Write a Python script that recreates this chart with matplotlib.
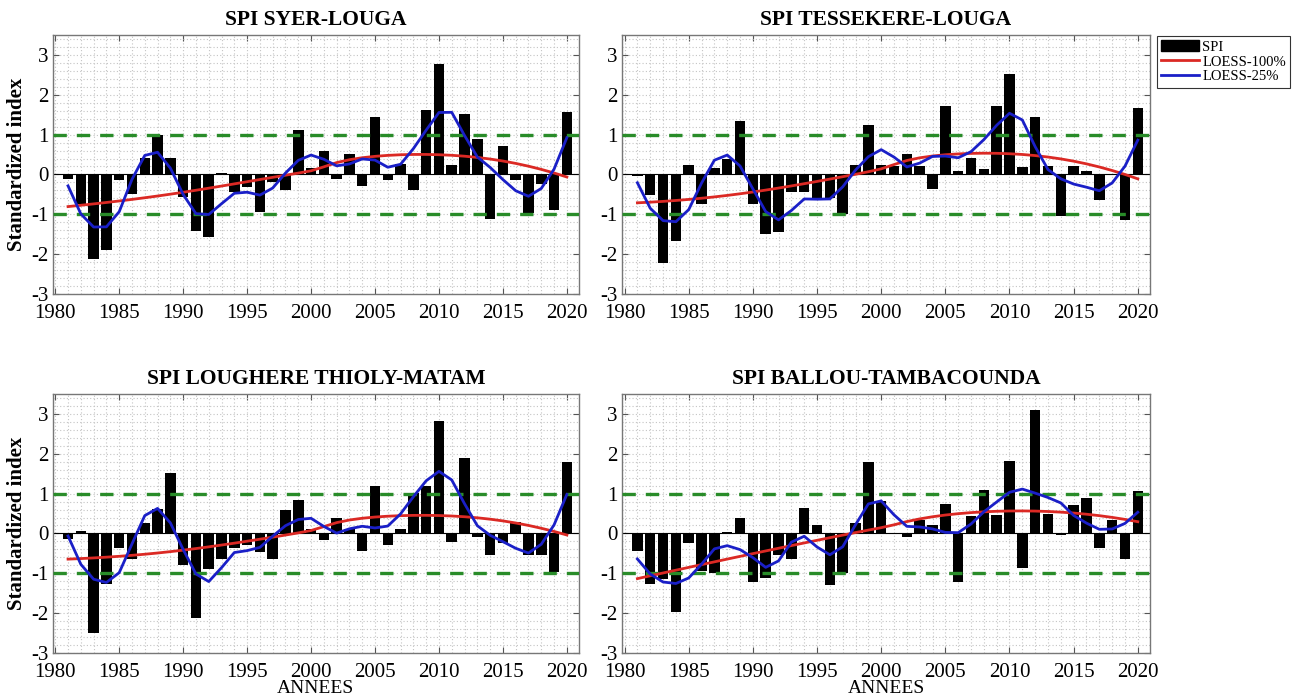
import numpy as np
import matplotlib
matplotlib.use("Agg")
import matplotlib.pyplot as plt
from matplotlib.patches import Patch
from matplotlib.lines import Line2D
from matplotlib.ticker import MultipleLocator

plt.rcParams["axes.unicode_minus"] = False

years = list(range(1981, 2021))

spi_syer_louga = [-0.11, -0.75, -2.13, -1.90, -0.15, -0.50, 0.41, 0.98, 0.41, -0.57,
                  -1.41, -1.57, 0.03, -0.44, -0.32, -0.94, -0.20, -0.40, 1.12, 0.15,
                  0.60, -0.11, 0.52, -0.30, 1.43, -0.15, 0.27, -0.38, 1.62, 2.77,
                  0.25, 1.52, 0.90, -1.12, 0.71, -0.15, -0.96, -0.25, -0.90, 1.58]

spi_tessekere_louga = [-0.03, -0.51, -2.23, -1.67, 0.25, -0.73, 0.17, 0.40, 1.33, -0.73,
                       -1.50, -1.44, -0.44, -0.44, -0.60, -0.60, -0.98, 0.25, 1.24, 0.25,
                       0.21, 0.52, 0.20, -0.36, 1.71, 0.08, 0.42, 0.13, 1.71, 2.52,
                       0.18, 1.43, 0.20, -1.05, 0.22, 0.08, -0.63, -0.02, -1.15, 1.66]

spi_thioly_matam = [-0.15, 0.07, -2.50, -1.28, -0.36, -0.63, 0.27, 0.62, 1.52, -0.80,
                    -2.11, -0.88, -0.65, -0.36, -0.30, -0.46, -0.65, 0.58, 0.83, 0.10,
                    -0.17, 0.39, 0.10, -0.44, 1.18, -0.28, 0.10, 1.02, 1.18, 2.81,
                    -0.21, 1.89, -0.08, -0.53, -0.25, 0.30, -0.54, -0.53, -0.97, 1.79]

spi_ballou_tambacounda = [-0.43, -1.28, -1.15, -1.98, -0.24, -0.95, -0.98, 0.04, 0.39, -1.23,
                          -1.12, -0.53, -0.65, 0.64, 0.22, -1.30, -0.98, 0.27, 1.80, 0.81,
                          -0.02, -0.08, 0.35, 0.21, 0.74, -1.22, 0.45, 1.08, 0.46, 1.81,
                          -0.86, 3.10, 0.49, -0.05, 0.71, 0.88, -0.36, 0.35, -0.65, 1.06]

titles = ["SPI SYER-LOUGA", "SPI TESSEKERE-LOUGA",
          "SPI LOUGHERE THIOLY-MATAM", "SPI BALLOU-TAMBACOUNDA"]
series = [spi_syer_louga, spi_tessekere_louga, spi_thioly_matam, spi_ballou_tambacounda]
year_ticks = [1980, 1985, 1990, 1995, 2000, 2005, 2010, 2015, 2020]
index_ticks = [-3, -2, -1, 0, 1, 2, 3]
legend_labels = ["SPI", "LOESS-100%", "LOESS-25%"]


def loess(x, y, span):
    """Local quadratic regression with tricube weights (span as a fraction)."""
    x = np.asarray(x, float)
    y = np.asarray(y, float)
    n = len(x)
    k = int(np.ceil(span * n))
    out = np.empty(n)
    for i in range(n):
        d = np.abs(x - x[i])
        idx = np.argsort(d, kind="stable")[:k]
        dmax = d[idx].max()
        w = (1 - (d[idx] / dmax) ** 3) ** 3 if dmax > 0 else np.ones(k)
        w = np.clip(w, 0, None)
        X = np.vstack([np.ones(k), x[idx] - x[i], (x[idx] - x[i]) ** 2]).T
        W = np.sqrt(w)
        coef, *_ = np.linalg.lstsq(X * W[:, None], y[idx] * W, rcond=None)
        out[i] = coef[0]
    return out


serif = ["Liberation Serif", "DejaVu Serif"]
W_PX, H_PX = 1294, 699
fig = plt.figure(figsize=(W_PX / 100, H_PX / 100), dpi=100)
fig.patch.set_facecolor("white")

boxes = [(52.7, 35, 579, 294), (622, 35, 1150, 294),
         (52.7, 394, 579, 653), (622, 394, 1150, 653)]

red = (0.86, 0.16, 0.14)
blue = (0.10, 0.12, 0.78)
green = (0.16, 0.55, 0.16)

for k, (title, vals) in enumerate(zip(titles, series)):
    x0, y0, x1, y1 = boxes[k]
    ax = fig.add_axes([x0 / W_PX, 1 - y1 / H_PX, (x1 - x0) / W_PX, (y1 - y0) / H_PX])
    ax.set_xlim(1979.8, 2020.95)
    ax.set_ylim(-3, 3.5)

    ax.xaxis.set_minor_locator(MultipleLocator(1))
    ax.yaxis.set_minor_locator(MultipleLocator(0.2))
    ax.grid(True, which="both", color="#c4c4c4", linestyle=(0, (1, 2)), linewidth=0.8)
    ax.set_axisbelow(True)

    ax.bar(years, vals, width=0.82, color="black", zorder=2)
    ax.axhline(0, color="black", linewidth=0.8, zorder=2)
    ax.axhline(1, color=green, linestyle=(0, (4, 3)), linewidth=2.4, zorder=3)
    ax.axhline(-1, color=green, linestyle=(0, (4, 3)), linewidth=2.4, zorder=3)

    ax.plot(years, loess(years, vals, 1.0), color=red, linewidth=2.0, zorder=4)
    ax.plot(years, loess(years, vals, 0.25), color=blue, linewidth=2.0, zorder=5)

    ax.set_xticks(year_ticks)
    ax.set_yticks(index_ticks)
    ax.tick_params(which="major", direction="in", length=4, top=True, right=True,
                   color="#555555", width=0.8)
    ax.tick_params(axis="x", which="major", pad=7)
    ax.tick_params(axis="y", which="major", pad=3)
    ax.tick_params(which="minor", length=0, top=True, right=True)
    for lab in ax.get_xticklabels() + ax.get_yticklabels():
        lab.set_fontfamily(serif)
        lab.set_fontsize(15)
    for sp in ax.spines.values():
        sp.set_color("#777777")
        sp.set_linewidth(1.0)

    ax.set_title(title, fontfamily=serif, fontweight="bold", fontsize=15.5, pad=7)
    if k % 2 == 0:
        ax.set_ylabel("Standardized index", fontfamily=serif, fontweight="bold",
                      fontsize=15, labelpad=3)
    if k >= 2:
        ax.set_xlabel("ANNEES", fontfamily=serif, fontsize=14, labelpad=-1)

handles = [Patch(facecolor="black", edgecolor="black"),
           Line2D([0], [0], color=red, linewidth=2),
           Line2D([0], [0], color=blue, linewidth=2)]
leg = fig.legend(handles, legend_labels, loc="upper left",
                 bbox_to_anchor=(1157 / W_PX, 1 - 36 / H_PX),
                 prop={"family": serif, "size": 10.5}, frameon=True, fancybox=False,
                 handlelength=2.6, handletextpad=0.2, borderpad=0.3,
                 labelspacing=0.12, borderaxespad=0)
leg.get_frame().set_edgecolor("black")
leg.get_frame().set_linewidth(0.8)

fig.savefig("out.png", dpi=100, facecolor="white")
